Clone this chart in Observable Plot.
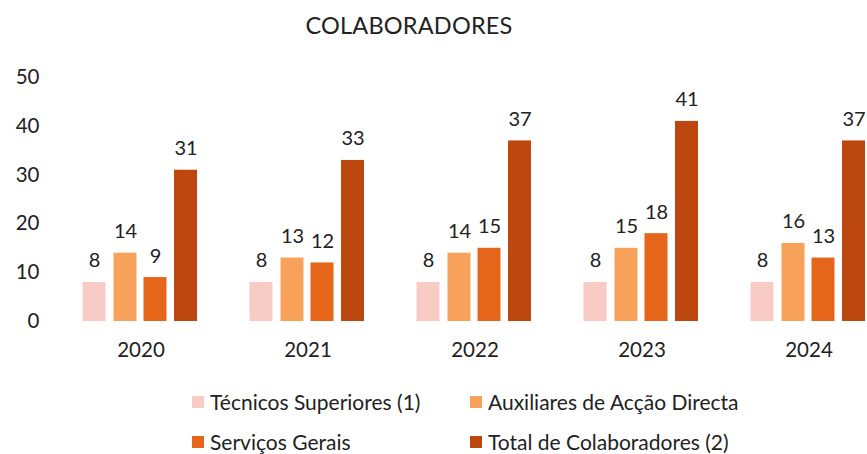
<!DOCTYPE html>
<html><head><meta charset="utf-8">
<script src="https://cdn.jsdelivr.net/npm/d3@7"></script>
<script src="https://cdn.jsdelivr.net/npm/@observablehq/plot@0.6"></script>
<style>
body{margin:0;background:#fff;font-family:Lato,"Open Sans",sans-serif;color:#222;width:867px;height:454px;overflow:hidden;position:relative}
#title{position:absolute;left:0;top:11px;width:818px;text-align:center;font-size:23.5px;letter-spacing:0.2px}
#chart{position:absolute;left:0;top:56px}
.lg{position:absolute;font-size:21px;display:flex;align-items:center;white-space:nowrap}
.lg span.sw{display:inline-block;width:12px;height:12px;margin-right:6px}
</style></head><body>
<div id="title">COLABORADORES</div>
<div id="chart"></div>
<div id="legend"></div>
<script>
const years = ["2020","2021","2022","2023","2024"];
const series = ["Técnicos Superiores (1)","Auxiliares de Acção Directa","Serviços Gerais","Total de Colaboradores (2)"];
const tecnicos = [8,8,8,8,8];
const auxiliares = [14,13,14,15,16];
const servicos = [9,12,15,18,13];
const total = [31,33,37,41,37];
const colors = ["#F9CBC5","#F7A15B","#E5661A","#BC4810"];
const yTicks = [0,10,20,30,40,50];

const values = [tecnicos, auxiliares, servicos, total];
const offsets = [-46.5,-15.5,14.5,45];
const band = 167, bw = 23;
const marks = [];
values.forEach((vals, i) => {
  const data = years.map((y, j) => ({year: y, value: vals[j], series: series[i]}));
  const o = offsets[i];
  marks.push(Plot.barY(data, {x: "year", y: "value", fill: colors[i],
    insetLeft: band/2 + o - bw/2, insetRight: band/2 - o - bw/2}));
  marks.push(Plot.text(data, {x: "year", y: "value", text: d => String(d.value), dx: o, dy: -15,
    lineAnchor: "bottom", fontSize: 20, fill: "#222"}));
});

const chart = Plot.plot({
  width: 867, height: 320,
  marginTop: 21, marginBottom: 55, marginLeft: 50, marginRight: 0,
  style: {fontFamily: "Lato, 'Open Sans', sans-serif", background: "transparent", overflow: "visible"},
  x: {type: "band", domain: years, range: [56.5, 891.5], padding: 0},
  y: {domain: [0, 50]},
  marks: [
    ...marks,
    Plot.axisY({ticks: yTicks, tickSize: 0, tickPadding: 11, fontSize: 20.5, label: null, fill: "#222"}),
    Plot.axisX({tickSize: 0, tickPadding: 21, fontSize: 20.5, label: null, fill: "#222"})
  ]
});
document.getElementById("chart").appendChild(chart);

const pos = [[192,403],[470,403],[192,443],[470,443]];
const lg = document.getElementById("legend");
series.forEach((s, i) => {
  const d = document.createElement("div");
  d.className = "lg";
  d.style.left = pos[i][0] + "px";
  d.style.top = (pos[i][1] - 14) + "px";
  d.innerHTML = `<span class="sw" style="background:${colors[i]}"></span>${s}`;
  lg.appendChild(d);
});
</script>
</body></html>
